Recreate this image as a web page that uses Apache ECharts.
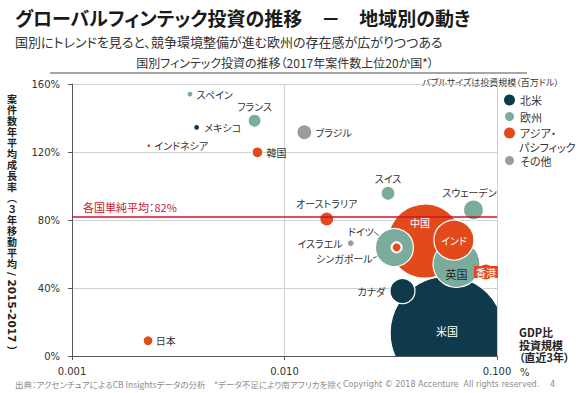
<!DOCTYPE html>
<html><head><meta charset="utf-8">
<script src="https://cdn.jsdelivr.net/npm/echarts@6/dist/echarts.min.js"></script>
<style>
html,body{margin:0;padding:0;background:#fff;}
#chart{width:580px;height:393px;}
#chart text{font-feature-settings:"palt" 1;}
</style></head><body><div id="chart"></div>
<script>
// ---- data ----
const countries = ['米国','カナダ','メキシコ','中国','インド','香港','シンガポール','韓国','日本','オーストラリア','インドネシア','英国','ドイツ','スウェーデン','スイス','フランス','スペイン','ブラジル','イスラエル'];
const regions = ['北米','北米','北米','アジア・パシフィック','アジア・パシフィック','アジア・パシフィック','アジア・パシフィック','アジア・パシフィック','アジア・パシフィック','アジア・パシフィック','アジア・パシフィック','欧州','欧州','欧州','欧州','欧州','欧州','その他','その他'];
const gdpRatio = [0.0582,0.0359,0.00386,0.0458,0.0627,0.0887,0.0337,0.00746,0.00228,0.0158,0.0023,0.0645,0.0329,0.0775,0.0307,0.00723,0.00359,0.0124,0.0205];
const growthRate = [13.5,38.2,134.5,67.6,68.2,49.4,63.9,119.8,9.0,80.6,123.7,54.1,63.8,85.9,95.7,138.4,154.1,131.6,66.3];
const investment = [30000,1450,85,12700,3700,590,230,280,230,450,37,5100,3340,925,450,390,85,520,113];
const averageGrowth = 82;
const regionOrder = ['北米','欧州','アジア・パシフィック','その他'];
const xTicks = [0.001, 0.01, 0.1];
const yTicks = [0, 40, 80, 120, 160];
const yNameVertical = '案件数年平均成長率︵３年移動平均';
const yNameRotated = '/ 2015-2017 ）';

// ---- styles ----
const COLORS = {'北米':'#0e3a4b','欧州':'#7aab9c','アジア・パシフィック':'#e2491b','その他':'#9c9c9c'};
const JP = '"Noto Sans CJK JP", sans-serif';
const NUM = '"DejaVu Sans", "Noto Sans CJK JP", sans-serif';
const SIZE_K = 9.25;
const BIG = 10000;
const labelCfg = {
 '米国': {position:'inside', color:'#fff', fontSize:11, offset:[0,-2]},
 'カナダ': {position:'left', distance:4},
 'メキシコ': {position:'right', distance:4},
 '中国': {position:'inside', color:'#fff', offset:[-5,-19]},
 'インド': {position:'inside', color:'#fff'},
 '香港': {position:'inside', color:'#fff', backgroundColor:'#e2491b', padding:[1,2]},
 'シンガポール': {position:'left', distance:4, move:[-14,11], line:true},
 '韓国': {position:'right', distance:3},
 '日本': {position:'right', distance:2},
 'オーストラリア': {position:'top', distance:3},
 'インドネシア': {position:'right', distance:3},
 '英国': {position:'inside', color:'#222', fontSize:11, move:[0,10]},
 'ドイツ': {position:'left', distance:3, move:[2,-16], line:true},
 'スウェーデン': {position:'top', distance:2, move:[-4,0]},
 'スイス': {position:'top', distance:2},
 'フランス': {position:'top', distance:2},
 'スペイン': {position:'right', distance:3},
 'ブラジル': {position:'right', distance:3},
 'イスラエル': {position:'left', distance:4}
};
const borderCfg = {'シンガポール': 2};

const series = [];
// large bubbles: custom series so that they are clipped by the plot area
regionOrder.forEach(reg => {
  const idx = countries.map((c,i)=>i).filter(i => regions[i]===reg && investment[i]>BIG);
  if (!idx.length) return;
  const names = idx.map(i => countries[i]);
  series.push({
    type:'custom', name: reg, clip:true,
    itemStyle:{color: COLORS[reg]},
    encode:{x:0, y:1},
    silent:true,
    data: idx.map(i => ({name: countries[i], value:[gdpRatio[i], growthRate[i], investment[i]]})),
    renderItem: (params, api) => {
      const p = api.coord([api.value(0), api.value(1)]);
      const r = Math.sqrt(api.value(2)/SIZE_K);
      const c = labelCfg[names[params.dataIndex]] || {};
      return {
        type:'circle', shape:{cx:p[0], cy:p[1], r},
        style:{fill: COLORS[reg], stroke:'#fff', lineWidth:1.2},
        textContent:{style:{text: names[params.dataIndex], fill: c.color || '#333', fontSize: c.fontSize || 10, fontFamily: JP}},
        textConfig:{position:'inside', offset: c.offset || [0,0]}
      };
    }
  });
});
// other bubbles
regionOrder.forEach(reg => {
  const idx = countries.map((c,i)=>i).filter(i => regions[i]===reg && investment[i]<=BIG);
  if (!idx.length) return;
  series.push({
    type:'scatter', name: reg,
    symbolSize: v => 2*Math.sqrt(v[2]/SIZE_K),
    itemStyle: {color: COLORS[reg], borderColor:'#fff', borderWidth:1.2, opacity:1},
    label: {show:true, formatter:'{b}', fontSize:10, color:'#333', fontFamily:JP},
    labelLine: {show:false},
    labelLayout: p => { const c = labelCfg[p.text]; return (c && c.move) ? {dx:c.move[0], dy:c.move[1]} : {}; },
    emphasis: {disabled:true},
    data: idx.map(i => {
      const c = labelCfg[countries[i]] || {};
      const lab = Object.assign({}, c);
      delete lab.move; delete lab.line; delete lab.offset;
      const item = {name: countries[i], value: [gdpRatio[i], growthRate[i], investment[i]], label: lab};
      if (c.line) item.labelLine = {show:true, lineStyle:{color:'#333', width:0.8}};
      if (borderCfg[countries[i]]) item.itemStyle = {borderWidth: borderCfg[countries[i]]};
      return item;
    })
  });
});
series.push({
  type:'scatter', name:'avg', data:[], silent:true,
  markLine: {
    silent:true, symbol:['none','none'],
    lineStyle:{color:'#c8172f', width:1.5, type:'solid'},
    label:{show:true, position:'insideStartTop', distance:[11,4], formatter:'各国単純平均：' + averageGrowth + '%', color:'#c8172f', fontSize:11, fontFamily:JP},
    data:[{yAxis: averageGrowth}]
  }
});

const legendBase = {
  orient:'vertical', left:503, padding:0, itemWidth:11, itemHeight:11, itemGap:4, icon:'circle', selectedMode:false,
  textStyle:{fontSize:11, color:'#333', fontFamily:JP, lineHeight:12}
};

const T = (x, y, text, st) => ({type:'text', x, y, silent:true, style: Object.assign({text, fill:'#333', fontFamily:JP, fontSize:11, textAlign:'left', textVerticalAlign:'middle'}, st||{})});

const yNameChars = Array.from(yNameVertical).map((ch, k) =>
  T(12, 98 + k*11, ch, {fontSize:10, fontWeight:'bold', textAlign:'center', fill:'#222'}));

const option = {
  backgroundColor:'#fff',
  animation:false,
  grid:{left:72, right:83, top:84, bottom:37, containLabel:false},
  xAxis:{
    type:'log', logBase:10, min:xTicks[0], max:xTicks[xTicks.length-1],
    axisLine:{show:true, lineStyle:{color:'#595959', width:1}},
    axisTick:{show:true, length:4, lineStyle:{color:'#595959'}},
    minorTick:{show:false},
    axisLabel:{margin:10, fontSize:10, color:'#333', fontFamily:NUM, formatter: v => Number(v).toFixed(3)},
    splitLine:{show:true, lineStyle:{color:'#d0d0d0', width:1}}
  },
  yAxis:{
    type:'value', min:yTicks[0], max:yTicks[yTicks.length-1], interval:40,
    axisLine:{show:true, lineStyle:{color:'#595959', width:1}},
    axisTick:{show:true, length:4, lineStyle:{color:'#595959'}},
    axisLabel:{margin:12, fontSize:10, color:'#333', fontFamily:NUM, formatter:'{value}%'},
    splitLine:{show:true, lineStyle:{color:'#d0d0d0', width:1}}
  },
  legend:[
    Object.assign({}, legendBase, {top:94, data:['北米','欧州','アジア・パシフィック'], formatter: n => n==='アジア・パシフィック' ? 'アジア・' : n}),
    Object.assign({}, legendBase, {top:154, data:['その他']})
  ],
  graphic:[
    T(15, 17, 'グローバルフィンテック投資の推移　－　地域別の動き', {fontSize:19, fontWeight:'bold', fill:'#1a1a1a'}),
    T(15, 41, '国別にトレンドを見ると、競争環境整備が進む欧州の存在感が広がりつつある', {fontSize:13, fill:'#333'}),
    T(285, 62, '国別フィンテック投資の推移（2017年案件数上位20か国*）', {fontSize:12, textAlign:'center'}),
    {type:'line', silent:true, shape:{x1:50, y1:73, x2:527, y2:73}, style:{stroke:'#a6a6a6', lineWidth:2}},
    T(422, 82, 'バブルサイズは投資規模（百万ドル）', {fontSize:9}),
    T(519, 147, 'パシフィック', {fontSize:11}),
    ...yNameChars,
    Object.assign(T(12, 272, yNameRotated, {fontSize:10.5, fontWeight:'bold', fontFamily:NUM, fill:'#222'}), {rotation:-Math.PI/2}),
    T(519, 326, 'GDP比\n投資規模\n（直近3年）', {fontSize:11, fontWeight:'bold', textVerticalAlign:'top', lineHeight:12.5, fill:'#222'}),
    T(520, 372, '%', {fontSize:10, fontFamily:NUM}),
    T(15, 384, '出典：アクセンチュアによるCB Insightsデータの分析　*データ不足により南アフリカを除く', {fontSize:8.5, fill:'#8c8c8c'}),
    T(343, 384, 'Copyright © 2018 Accenture  All rights reserved.', {fontSize:8, fill:'#8c8c8c', fontFamily:NUM}),
    T(550, 384, '4', {fontSize:8, fill:'#8c8c8c', fontFamily:NUM})
  ],
  series
};
const chart = echarts.init(document.getElementById('chart'), null, {renderer:'svg'});
chart.setOption(option);
</script></body></html>
